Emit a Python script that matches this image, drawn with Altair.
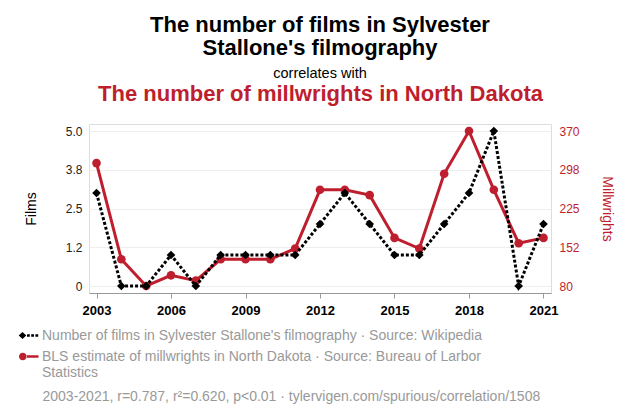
import json
import altair as alt
import pandas as pd

# ---------------- data ----------------
years = list(range(2003, 2022))
films = [3, 0, 0, 1, 0, 1, 1, 1, 1, 2, 3, 2, 1, 1, 2, 3, 5, 0, 2]
millwrights = [310, 130, 80, 100, 90, 130, 130, 130, 150, 260, 260, 250, 170, 150, 290, 370, 260, 160, 170]

films_label = "Number of films in Sylvester Stallone's filmography · Source: Wikipedia"
mill_label = "BLS estimate of millwrights in North Dakota · Source: Bureau of Larbor Statistics"
mill_label_lines = ["BLS estimate of millwrights in North Dakota · Source: Bureau of Larbor", "Statistics"]
series_labels = [films_label, mill_label]

title_lines = ["The number of films in Sylvester", "Stallone's filmography"]
subtitle_text = "correlates with"
red_title = "The number of millwrights in North Dakota"
footer_text = "2003-2021, r=0.787, r²=0.620, p<0.01 · tylervigen.com/spurious/correlation/1508"

x_ticks = [2003, 2006, 2009, 2012, 2015, 2018, 2021]
films_ticks = [0, 1.25, 2.5, 3.75, 5]
films_tick_labels = ["0", "1.2", "2.5", "3.8", "5.0"]
mill_ticks = [80, 152.5, 225, 297.5, 370]
mill_tick_labels = ["80", "152", "225", "298", "370"]

# ---------------- style ----------------
FONT = "Liberation Sans"
RED = "#be1e2d"
GRAY = "#999999"

df = pd.DataFrame({"year": years, "films": films, "millwrights": millwrights})
legend_df = pd.DataFrame({"year": [years[0], years[0]], "films": [films[0], films[0]], "series": series_labels})

# legend symbols: marker + line stub (custom paths)
black_sym = ("M-1.03,-0.45L-0.65,-0.8L-0.27,-0.45L-0.65,-0.1Z "
             "M-0.2,-0.57h0.28v0.24h-0.28Z M0.22,-0.57h0.28v0.24h-0.28Z M0.64,-0.57h0.28v0.24h-0.28Z")
red_sym = ("M-1,-0.45a0.38,0.38 0 1,0 0.76,0a0.38,0.38 0 1,0 -0.76,0Z "
           "M-0.3,-0.58H0.95V-0.32H-0.3Z")

x_scale = alt.Scale(domain=[years[0], years[-1]], nice=False, zero=False, padding=7.5)

bottom_axis = alt.Axis(
    orient="bottom", values=x_ticks, format="d", grid=False,
    labelFontWeight="bold", labelFontSize=13, labelColor="black", labelFont=FONT,
    labelPadding=6, tickSize=5, tickColor="#999999", domainColor="#999999",
    title=footer_text, titleX=-47, titleY=103, titleAlign="left", titleAnchor="start",
    titleBaseline="middle", titleFontWeight="normal", titleFontSize=14,
    titleColor=GRAY, titleFont=FONT, titleLimit=800,
)
top_axis = alt.Axis(
    orient="top", labels=False, ticks=False, domain=False, grid=False,
    title=red_title, titleColor=RED, titleFontSize=22, titleFontWeight="bold",
    titleFont=FONT, titleBaseline="alphabetic", titlePadding=24, titleLimit=800,
)

films_expr = f"{json.dumps(films_tick_labels)}[indexof({json.dumps(films_ticks)}, datum.value)]"
mill_expr = f"{json.dumps(mill_tick_labels)}[indexof({json.dumps(mill_ticks)}, datum.value)]"

left_axis = alt.Axis(
    orient="left", values=films_ticks, labelExpr=films_expr, ticks=False, domain=False,
    grid=True, gridColor="#eeeeee", labelFontSize=12, labelColor="#222222", labelFont=FONT,
    labelPadding=7, title="Films", titleFontSize=14, titleFontWeight="normal",
    titleColor="black", titleFont=FONT, titlePadding=27,
)
right_axis = alt.Axis(
    orient="right", values=mill_ticks, labelExpr=mill_expr, ticks=False, domain=False,
    grid=False, labelFontSize=12, labelColor=RED, labelFont=FONT, labelPadding=8,
    title="Millwrights", titleFontSize=14, titleFontWeight="normal", titleColor=RED,
    titleFont=FONT, titlePadding=20,
)

y_films = alt.Y("films:Q", scale=alt.Scale(domain=[0, 5], nice=False, zero=False, padding=7), axis=left_axis)
y_mill = alt.Y("millwrights:Q", scale=alt.Scale(domain=[80, 370], nice=False, zero=False, padding=7), axis=right_axis)
x_bottom = alt.X("year:Q", scale=x_scale, axis=bottom_axis)
x_top = alt.X("year:Q", scale=x_scale, axis=top_axis)

base = alt.Chart(df)

black_line = base.mark_line(color="black", strokeWidth=3, strokeDash=[3, 2]).encode(x=x_bottom, y=y_films)
black_pts = base.mark_point(shape="diamond", filled=True, color="black", size=75, opacity=1).encode(x=x_bottom, y=y_films)

legend = alt.Legend(
    orient="none", legendX=-70, legendY=206, direction="vertical", title=None,
    labelExpr=f"indexof(datum.label, 'BLS') == 0 ? {json.dumps(mill_label_lines)} : datum.label",
    labelFontSize=14, labelColor=GRAY, labelFont=FONT, labelLimit=800, labelOffset=3,
    labelBaseline="alphabetic", symbolSize=400, symbolOpacity=1, symbolStrokeWidth=0,
    rowPadding=7,
)
legend_layer = alt.Chart(legend_df).mark_point(filled=True, opacity=0).encode(
    x=x_bottom, y=y_films,
    color=alt.Color("series:N", scale=alt.Scale(domain=series_labels, range=["black", RED]), legend=legend),
    shape=alt.Shape("series:N", scale=alt.Scale(domain=series_labels, range=[black_sym, red_sym]), legend=legend),
)

red_line = base.mark_line(color=RED, strokeWidth=3).encode(x=x_top, y=y_mill)
red_pts = base.mark_point(shape="circle", filled=True, color=RED, size=75, opacity=1).encode(x=x_top, y=y_mill)

black_layer = alt.layer(black_line, black_pts, legend_layer)
red_layer = alt.layer(red_line, red_pts)

# red drawn under black
chart = alt.layer(red_layer, black_layer).resolve_scale(y="independent").resolve_axis(x="independent")

chart = chart.properties(
    width=462, height=169,
    autosize=alt.AutoSizeParams(type="none"),
    padding={"left": 89, "top": 124, "right": 92, "bottom": 123},
    title=alt.TitleParams(
        text=title_lines, subtitle=subtitle_text, fontSize=22, fontWeight="bold", color="black",
        font=FONT, lineHeight=23, subtitleFont=FONT, subtitleFontSize=14.5, subtitleColor="black",
        subtitlePadding=7, anchor="middle", offset=1,
    ),
).configure_view(strokeWidth=0).configure(background="white")

chart.save("out.html", embed_options={"renderer": "svg", "actions": False})
